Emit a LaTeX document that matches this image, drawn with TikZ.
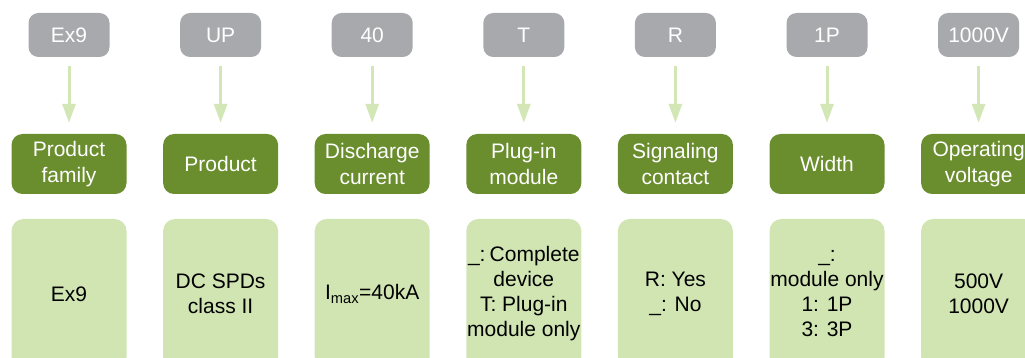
\documentclass[tikz,border=0pt]{standalone}
\usepackage{fontspec}
\setmainfont{Liberation Sans}
\usetikzlibrary{arrows.meta}
\definecolor{codegray}{HTML}{A7A9AC}
\definecolor{darkgreen}{HTML}{6A8D2E}
\definecolor{lightgreen}{HTML}{D1E5B3}
\definecolor{arrowgreen}{HTML}{D3E6B5}
\tikzset{
  codebox/.style={fill=codegray, rounded corners=10pt, minimum width=81pt, minimum height=44pt, text=white, font=\fontsize{21}{25}\selectfont, inner sep=0pt},
  headbox/.style={fill=darkgreen, rounded corners=11pt, minimum width=115pt, minimum height=60pt, text=white, font=\fontsize{21}{26}\selectfont, align=center, inner sep=0pt},
  valbox/.style={fill=lightgreen, rounded corners=12pt, minimum width=115pt, minimum height=150pt, text=black, font=\fontsize{21}{25}\selectfont, align=center, inner sep=0pt},
  flowarrow/.style={draw=arrowgreen, line width=3pt, -{Triangle[width=13pt,length=19pt]}, shorten <=9pt, shorten >=11pt}
}
\begin{document}
\begin{tikzpicture}[x=1pt,y=-1pt]
\useasboundingbox (0,0) rectangle (1025,358);
\clip (0,0) rectangle (1025,358);
\foreach \i/\code/\head/\val in {
  0/Ex9/{Product\\family}/{Ex9},
  1/UP/{Product}/{DC SPDs\\class II},
  2/40/{Discharge\\current}/{I\textsubscript{max}=40kA},
  3/T/{Plug-in\\module}/{\_:\hspace{0.2em}Complete\\device\\T: Plug-in\\module only},
  4/R/{Signaling\\contact}/{R: Yes\\\_: No},
  5/1P/{Width}/{\_:\\module only\\1: 1P\\3: 3P},
  6/1000V/{Operating\\voltage}/{500V\\1000V}}
{
  \pgfmathsetmacro{\cx}{69+151.6*\i}
  \node[codebox] (g\i) at (\cx,35) {\code};
  \node[headbox] (d\i) at (\cx,164) {\head};
  \node[valbox] (l\i) at (\cx,294) {\val};
  \draw[flowarrow] (g\i) -- (d\i);
}
\end{tikzpicture}
\end{document}
